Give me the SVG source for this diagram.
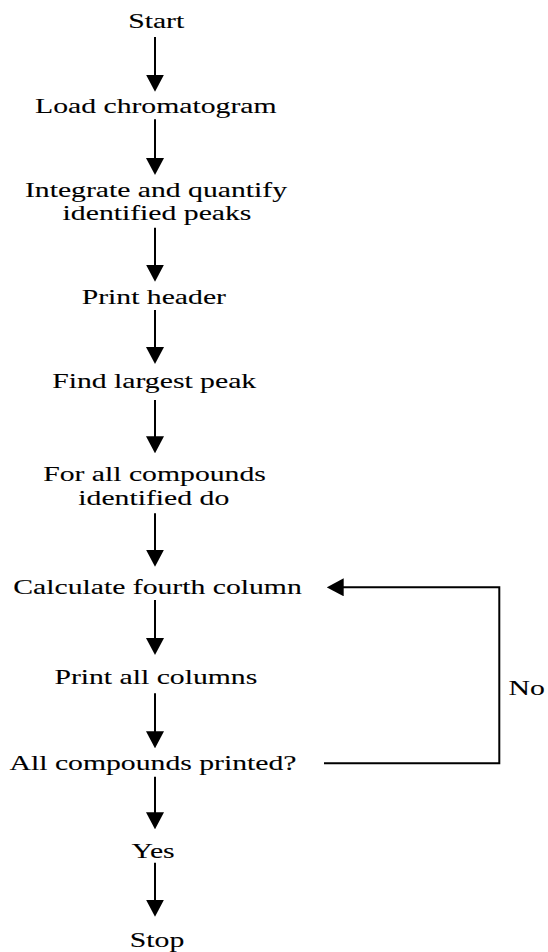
<svg xmlns="http://www.w3.org/2000/svg" width="548" height="952" viewBox="0 0 548 952">
<style>
text{font-family:"Liberation Serif","Times New Roman",serif;font-size:22px;fill:#000;stroke:#000;stroke-width:0.1;text-anchor:middle}
.c{fill:none;stroke:#000;stroke-width:2}
</style>
<defs>
<marker id="ah" viewBox="0 0 17 18" refX="9" refY="9" markerWidth="17" markerHeight="18" markerUnits="userSpaceOnUse" orient="auto">
<polygon points="0,0 17,9 0,18" fill="#000"/>
</marker>
</defs>
<rect width="548" height="952" fill="#fff"/>
<g id="connectors">
<path class="c" d="M155 37V83.7" marker-end="url(#ah)"/>
<path class="c" d="M155 119.3V167" marker-end="url(#ah)"/>
<path class="c" d="M155 227.7V273.7" marker-end="url(#ah)"/>
<path class="c" d="M155 310V356" marker-end="url(#ah)"/>
<path class="c" d="M155 400V445.3" marker-end="url(#ah)"/>
<path class="c" d="M155 513.3V558.7" marker-end="url(#ah)"/>
<path class="c" d="M155 600V647" marker-end="url(#ah)"/>
<path class="c" d="M155 693.3V740.3" marker-end="url(#ah)"/>
<path class="c" d="M155 776.7V821.3" marker-end="url(#ah)"/>
<path class="c" d="M155 862.7V908.7" marker-end="url(#ah)"/>
<path class="c" d="M324 763.3H499.3V587.3H334.7" marker-end="url(#ah)"/>
</g>
<g id="start"><text transform="translate(156.2 28.3) scale(1.35 1)">Start</text></g>
<g id="load"><text transform="translate(155.8 113.3) scale(1.35 1)">Load chromatogram</text></g>
<g id="integrate">
<text transform="translate(156 196.7) scale(1.35 1)">Integrate and quantify</text>
<text transform="translate(157 220) scale(1.35 1)">identified peaks</text>
</g>
<g id="header"><text transform="translate(153.8 304) scale(1.35 1)">Print header</text></g>
<g id="largest"><text transform="translate(154.2 388.3) scale(1.35 1)">Find largest peak</text></g>
<g id="forall">
<text transform="translate(154.5 481) scale(1.35 1)">For all compounds</text>
<text transform="translate(153.8 505) scale(1.35 1)">identified do</text>
</g>
<g id="calculate"><text transform="translate(157.5 594.3) scale(1.35 1)">Calculate fourth column</text></g>
<g id="printall"><text transform="translate(155.8 684) scale(1.35 1)">Print all columns</text></g>
<g id="decision"><text transform="translate(153 770) scale(1.35 1)">All compounds printed?</text></g>
<g id="no"><text transform="translate(526.6 695) scale(1.35 1)">No</text></g>
<g id="yes"><text transform="translate(153 857.7) scale(1.35 1)">Yes</text></g>
<g id="stop"><text transform="translate(157 946.7) scale(1.35 1)">Stop</text></g>
</svg>
